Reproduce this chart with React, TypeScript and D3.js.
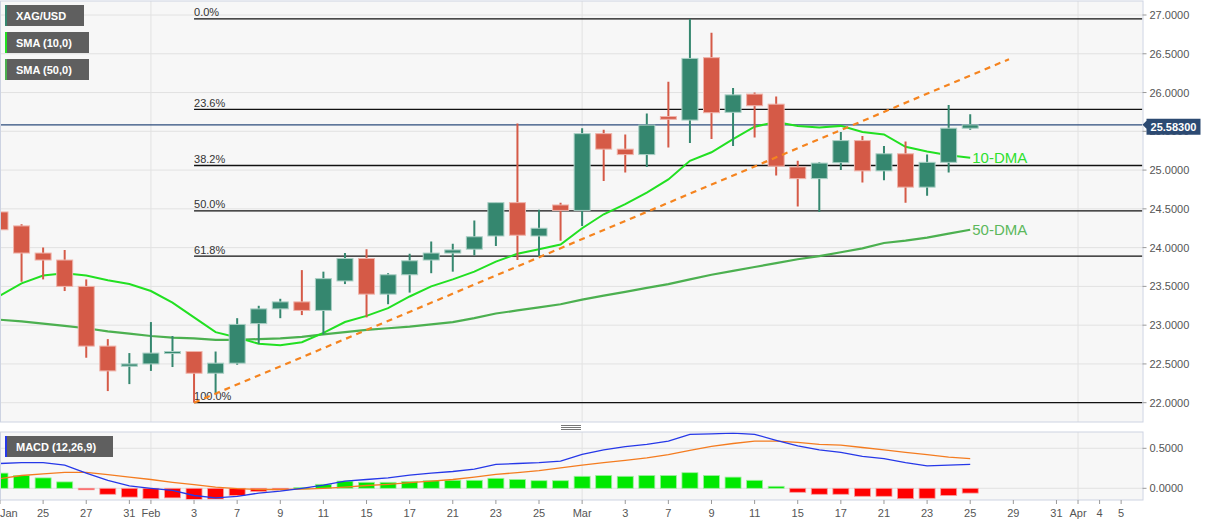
import React from 'react';
import * as d3 from 'd3';

// trading-day index 0 = Jan 21
const tickIdx = [0, 2, 4, 6, 7, 9, 11, 13, 15, 17, 19, 21, 23, 25, 27, 29, 31, 33, 35, 37, 39, 41, 43, 45, 47, 49, 50, 51, 52];
const tickText = ['Jan', '25', '27', '31', 'Feb', '3', '7', '9', '11', '15', '17', '21', '23', '25', 'Mar', '3', '7', '9', '11', '15', '17', '21', '23', '25', '29', '31', 'Apr', '4', '5'];
const monthIdx = [7, 27, 50];

const open = [24.46, 24.28, 23.93, 23.84, 23.5, 22.73, 22.47, 22.5, 22.64, 22.66, 22.38, 22.51, 23.02, 23.21, 23.3, 23.19, 23.57, 23.86, 23.4, 23.65, 23.84, 23.93, 23.98, 24.15, 24.58, 24.15, 24.55, 24.48, 25.47, 25.27, 25.2, 25.69, 25.645, 26.45, 25.745, 25.98, 25.85, 25.04, 24.89, 25.095, 25.38, 24.99, 25.21, 24.78, 25.1, 25.54];
const high = [24.57, 24.3, 24.0, 23.97, 23.59, 22.82, 22.64, 23.04, 22.86, 22.66, 22.66, 23.09, 23.25, 23.34, 23.71, 23.69, 23.93, 23.98, 23.67, 23.92, 24.08, 24.05, 24.35, 24.58, 25.6, 24.49, 24.58, 25.54, 25.52, 25.46, 25.73, 26.14, 26.95, 26.77, 26.06, 26.0, 25.95, 25.12, 25.1, 25.49, 25.44, 25.31, 25.37, 25.2, 25.84, 25.72];
const low = [24.17, 23.56, 23.59, 23.44, 22.58, 22.15, 22.24, 22.41, 22.46, 22.0, 22.12, 22.49, 22.76, 23.09, 23.13, 22.88, 23.53, 23.1, 23.27, 23.42, 23.67, 23.69, 23.9, 24.02, 23.84, 23.88, 24.09, 24.28, 24.86, 24.97, 25.04, 25.29, 25.35, 25.4, 25.31, 25.42, 24.93, 24.53, 24.46, 25.0, 24.84, 24.87, 24.58, 24.67, 24.97, 25.52];
const close = [24.23, 23.93, 23.84, 23.5, 22.73, 22.41, 22.5, 22.64, 22.66, 22.38, 22.51, 23.01, 23.21, 23.3, 23.19, 23.6, 23.86, 23.4, 23.65, 23.83, 23.93, 23.97, 24.14, 24.58, 24.16, 24.25, 24.48, 25.47, 25.27, 25.2, 25.58, 25.655, 26.44, 25.74, 25.97, 25.83, 25.05, 24.89, 25.09, 25.38, 24.99, 25.21, 24.78, 25.1, 25.54, 25.583];

const sma10 = [23.38, 23.54, 23.64, 23.67, 23.64, 23.58, 23.53, 23.44, 23.29, 23.1, 22.91, 22.84, 22.76, 22.74, 22.78, 22.9, 23.04, 23.12, 23.22, 23.37, 23.5, 23.59, 23.69, 23.82, 23.92, 23.98, 24.04, 24.25, 24.43, 24.56, 24.71, 24.88, 25.12, 25.23, 25.4, 25.56, 25.62, 25.57, 25.55, 25.57, 25.49, 25.46, 25.3, 25.24, 25.19, 25.16];
const sma50 = [23.07, 23.05, 23.02, 22.99, 22.96, 22.92, 22.89, 22.86, 22.84, 22.83, 22.81, 22.81, 22.82, 22.83, 22.85, 22.88, 22.91, 22.94, 22.96, 22.98, 23.01, 23.04, 23.09, 23.15, 23.19, 23.23, 23.27, 23.33, 23.38, 23.43, 23.48, 23.53, 23.59, 23.65, 23.7, 23.75, 23.8, 23.85, 23.89, 23.94, 23.99, 24.06, 24.09, 24.13, 24.18, 24.23];

const macd = [0.31, 0.32, 0.32, 0.29, 0.19, 0.1, 0.03, 0.0, -0.025, -0.09, -0.12, -0.1, -0.06, -0.035, 0.0, 0.04, 0.09, 0.11, 0.13, 0.165, 0.19, 0.21, 0.24, 0.3, 0.31, 0.32, 0.34, 0.425, 0.48, 0.52, 0.55, 0.59, 0.675, 0.68, 0.69, 0.675, 0.6, 0.53, 0.48, 0.45, 0.4, 0.37, 0.32, 0.28, 0.29, 0.3];
const signal = [0.12, 0.16, 0.18, 0.2, 0.2, 0.17, 0.14, 0.11, 0.075, 0.045, 0.015, -0.005, -0.015, -0.015, -0.01, 0.0, 0.015, 0.035, 0.05, 0.07, 0.09, 0.11, 0.14, 0.175, 0.195, 0.22, 0.255, 0.29, 0.32, 0.35, 0.38, 0.42, 0.475, 0.525, 0.56, 0.59, 0.59, 0.575, 0.55, 0.54, 0.51, 0.48, 0.45, 0.42, 0.39, 0.37];
const hist = [0.19, 0.16, 0.13, 0.08, -0.01, -0.075, -0.11, -0.13, -0.12, -0.14, -0.135, -0.09, -0.04, -0.02, 0.01, 0.05, 0.09, 0.075, 0.075, 0.085, 0.095, 0.1, 0.1, 0.125, 0.11, 0.095, 0.095, 0.15, 0.16, 0.15, 0.16, 0.16, 0.195, 0.16, 0.14, 0.1, 0.025, -0.05, -0.075, -0.075, -0.1, -0.1, -0.13, -0.125, -0.09, -0.06];

const fibHigh = 26.95;
const fibLow = 22.0;
const fibStart = 9;
const fibLevels = [0, 0.236, 0.382, 0.5, 0.618, 1];
const fibLabels = ['0.0%', '23.6%', '38.2%', '50.0%', '61.8%', '100.0%'];

const trendIdx = [9, 46.8];
const trendVal = [22.0, 26.43];
const lastPrice = 25.583;

const font = '"Liberation Sans", Arial, sans-serif';

export default function App() {
  const W = 1207;
  const H = 526;
  const x = d3.scaleLinear().domain([0, 53]).range([0, 1142.7]);
  const y = d3.scaleLinear().domain([22, 27]).range([402.7, 15]);
  const ym = d3.scaleLinear().domain([0, 0.5]).range([488.3, 448.3]);
  const R = 1142.5;
  const mainTop = 1, mainBot = 422;
  const mTop = 432, mBot = 500;
  const bw = 16;

  const line = (vals: number[], sc: (v: number) => number) =>
    d3.line<number>().x((_, i) => x(i)).y(d => sc(d))(vals) || '';

  const yTicks = d3.range(22, 27.01, 0.5);
  const up = '#35876f';
  const down = '#d55a47';
  const py = y(lastPrice);

  return (
    <svg width={W} height={H} style={{ position: 'absolute', left: 0, top: 0, fontFamily: font }}>
      <defs>
        <clipPath id="mainClip"><rect x={0} y={mainTop} width={R} height={mainBot - mainTop} /></clipPath>
        <clipPath id="macdClip"><rect x={0} y={mTop} width={R} height={mBot - mTop} /></clipPath>
      </defs>
      <rect x={0} y={0} width={W} height={H} fill="#fff" />

      {/* main panel */}
      <rect x={0} y={mainTop} width={R} height={mainBot - mainTop} fill="#f7f7f7" />
      {yTicks.map(v => (
        <line key={v} x1={0} x2={R} y1={y(v)} y2={y(v)} stroke="#e2e2e2" />
      ))}
      {monthIdx.map(i => (
        <line key={i} x1={x(i)} x2={x(i)} y1={mainTop} y2={mainBot} stroke="#e2e2e2" />
      ))}

      <g clipPath="url(#mainClip)">
        {fibLevels.map((f, k) => {
          const v = fibHigh - (fibHigh - fibLow) * f;
          return (
            <g key={k}>
              <line x1={x(fibStart)} x2={R} y1={y(v)} y2={y(v)} stroke="#111" strokeWidth={1.3} />
              <text x={x(fibStart)} y={y(v) - 2.5} fontSize={11} fill="#333">{fibLabels[k]}</text>
            </g>
          );
        })}
        <line x1={0} x2={R} y1={py} y2={py} stroke="#2d4c7c" strokeWidth={1.2} />

        <path d={line(sma50, y)} fill="none" stroke="#4cb050" strokeWidth={2.2} />
        <path d={line(sma10, y)} fill="none" stroke="#22e022" strokeWidth={2} />

        {open.map((o, i) => {
          const c = close[i];
          const col = c >= o ? up : down;
          const top = y(Math.max(o, c));
          const bot = y(Math.min(o, c));
          return (
            <g key={i}>
              <line x1={x(i)} x2={x(i)} y1={y(high[i])} y2={y(low[i])} stroke={col} strokeWidth={2} />
              <rect x={x(i) - bw / 2} y={top} width={bw} height={Math.max(bot - top, 2)} fill={col}
                stroke={c >= o ? '#a9cfc4' : '#efb3aa'} strokeWidth={1} />
            </g>
          );
        })}

        <line x1={x(trendIdx[0])} y1={y(trendVal[0])} x2={x(trendIdx[1])} y2={y(trendVal[1])}
          stroke="#f5841f" strokeWidth={2.2} strokeDasharray="6,5" />

        <text x={x(45) + 2} y={y(sma10[45]) + 5} fontSize={15} fill="#2ee02e">10-DMA</text>
        <text x={x(45) + 2} y={y(sma50[45]) + 5} fontSize={15} fill="#5cb85c">50-DMA</text>
      </g>
      <rect x={0.5} y={mainTop} width={R} height={mainBot - mainTop} fill="none" stroke="#cdd3e2" />

      {/* right axis main */}
      {yTicks.map(v => (
        <g key={v}>
          <line x1={R} x2={R + 4} y1={y(v)} y2={y(v)} stroke="#999" />
          <text x={R + 7} y={y(v) + 4} fontSize={11} fill="#555">{v.toFixed(4)}</text>
        </g>
      ))}
      <path d={`M${R},${py} L${R + 4},${py - 4} L${R + 4},${py - 6} L${R + 58},${py - 6} L${R + 58},${py + 10} L${R + 4},${py + 10} L${R + 4},${py + 4} Z`}
        fill="#2c4a72" />
      <text x={R + 31} y={py + 6} fontSize={11} fontWeight="bold" fill="#fff" textAnchor="middle">{lastPrice.toFixed(5)}</text>

      {/* legends */}
      {[['XAG/USD', '#35876f', 79], ['SMA (10,0)', '#22e022', 84], ['SMA (50,0)', '#4cb050', 84]].map((d, k) => (
        <g key={k}>
          <rect x={5} y={5 + k * 27} width={d[2] as number} height={21} fill="#5f5f5f" />
          <rect x={5} y={5 + k * 27} width={2} height={21} fill={d[1] as string} />
          <text x={16} y={20 + k * 27} fontSize={11} fontWeight="bold" fill="#fff">{d[0]}</text>
        </g>
      ))}

      {/* drag handle */}
      {[425.5, 427.5, 429.5].map(v => (
        <line key={v} x1={561} x2={581} y1={v} y2={v} stroke="#777" strokeWidth={1} />
      ))}

      {/* MACD panel */}
      <rect x={0} y={mTop} width={R} height={mBot - mTop} fill="#f7f7f7" />
      {[0, 0.5].map(v => (
        <line key={v} x1={0} x2={R} y1={ym(v)} y2={ym(v)} stroke="#e2e2e2" />
      ))}
      {monthIdx.map(i => (
        <line key={i} x1={x(i)} x2={x(i)} y1={mTop} y2={mBot} stroke="#e2e2e2" />
      ))}
      <g clipPath="url(#macdClip)">
        {hist.map((h, i) => {
          const t = Math.min(ym(h), ym(0));
          const hh = Math.abs(ym(h) - ym(0));
          return (
            <rect key={i} x={x(i) - bw / 2} y={t} width={bw} height={Math.max(hh, 1.5)}
              fill={h >= 0 ? '#00e800' : '#ff0000'} stroke={h >= 0 ? '#9cf09c' : '#f7a0a0'} strokeWidth={0.8} />
          );
        })}
        <path d={line(signal, ym)} fill="none" stroke="#f47c20" strokeWidth={1.3} />
        <path d={line(macd, ym)} fill="none" stroke="#2638e8" strokeWidth={1.3} />
      </g>
      <rect x={0.5} y={mTop} width={R} height={mBot - mTop} fill="none" stroke="#cdd3e2" />
      <rect x={5} y={436} width={108} height={21} fill="#5f5f5f" />
      <rect x={5} y={436} width={2} height={21} fill="#2638e8" />
      <text x={16} y={451} fontSize={11} fontWeight="bold" fill="#fff">MACD (12,26,9)</text>
      {[0, 0.5].map(v => (
        <g key={v}>
          <line x1={R} x2={R + 4} y1={ym(v)} y2={ym(v)} stroke="#999" />
          <text x={R + 7} y={ym(v) + 4} fontSize={11} fill="#555">{v.toFixed(4)}</text>
        </g>
      ))}

      {/* x axis */}
      {tickIdx.map((i, k) => (
        <g key={k}>
          <line x1={x(i)} x2={x(i)} y1={mBot} y2={mBot + 4} stroke="#999" />
          <text x={i === 0 ? 0 : x(i)} y={517} fontSize={11} fill="#555" textAnchor={i === 0 ? 'start' : 'middle'}>{tickText[k]}</text>
        </g>
      ))}
    </svg>
  );
}
